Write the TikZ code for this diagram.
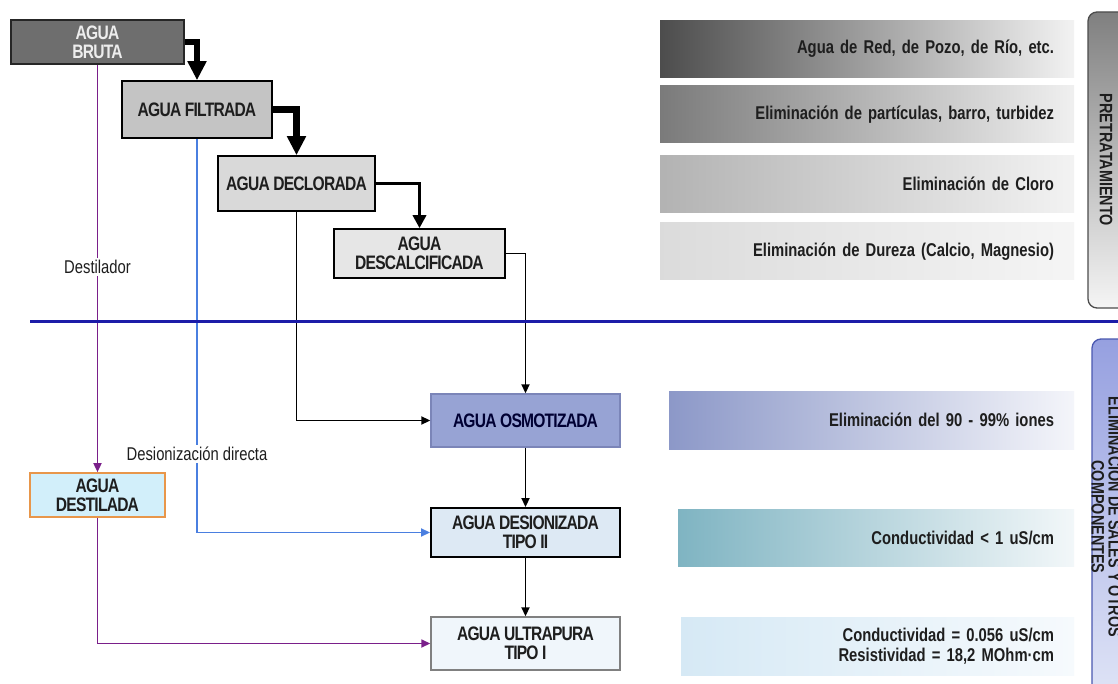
\documentclass[tikz,border=0pt]{standalone}
\usepackage{fontspec}
\setmainfont{Liberation Sans}[FakeStretch=0.8]
\newfontfamily\boxfont{Liberation Sans}[FakeStretch=0.8, LetterSpace=-4]
\usetikzlibrary{arrows.meta}
\definecolor{cbruta}{HTML}{6E6E6E}
\definecolor{cfilt}{HTML}{C4C4C4}
\definecolor{cdecl}{HTML}{D9D9D9}
\definecolor{cdesc}{HTML}{E6E6E6}
\definecolor{cosmo}{HTML}{97A3D4}
\definecolor{cosmob}{HTML}{7B85B8}
\definecolor{cdest}{HTML}{D2EFFA}
\definecolor{cdestb}{HTML}{E8964A}
\definecolor{cdesi}{HTML}{DDE9F4}
\definecolor{cultra}{HTML}{F0F6FB}
\definecolor{cpurple}{HTML}{7A1F8A}
\definecolor{cblue}{HTML}{4A7FE0}
\definecolor{cnavy}{HTML}{1C1CA8}
\definecolor{ctext}{HTML}{1E1E1E}
\tikzset{
  box/.style={draw=black, line width=1.6pt, inner sep=0pt, align=center,
    font=\boxfont\fontsize{19.5}{19}\selectfont\bfseries, text=ctext},
  band/.style={inner sep=0pt, inner xsep=20pt, align=right, text=ctext,
    font=\fontsize{18.5}{20}\selectfont\bfseries, minimum height=57},
  thickarrow/.style={line width=6.5pt, -{Triangle[length=19pt,width=18pt]}},
  medarrow/.style={line width=3.8pt, -{Triangle[length=13pt,width=13pt]}},
  thinarrow/.style={line width=1.9pt, -{Triangle[length=9pt,width=8pt]}},
  lbl/.style={fill=white, inner sep=2pt, text=ctext, font=\fontsize{18.5}{19}\selectfont},
  sidetext/.style={rotate=-90, align=center, text=ctext, font=\fontsize{18}{17}\selectfont\bfseries}
}
\begin{document}
\begin{tikzpicture}[x=1pt,y=-1pt]
\useasboundingbox (0,0) rectangle (1118,684);
\clip (0,0) rectangle (1118,684);
\fill[white] (0,0) rectangle (1118,684);

% boxes
\node[box, fill=cbruta, draw=black!85, text=white!93!black, minimum width=173, minimum height=44] (bruta) at (97.5,42) {AGUA\\BRUTA};
\node[box, fill=cfilt, minimum width=150, minimum height=57] (filt) at (197,109.5) {AGUA FILTRADA};
\node[box, fill=cdecl, minimum width=157, minimum height=55] (decl) at (296.5,183.5) {AGUA DECLORADA};
\node[box, fill=cdesc, minimum width=171, minimum height=49] (desc) at (419.5,253.5) {AGUA\\DESCALCIFICADA};
\node[box, fill=cosmo, draw=cosmob, line width=1.4pt, text=black!80!blue, minimum width=189, minimum height=53] (osmo) at (525.5,420.5) {AGUA OSMOTIZADA};
\node[box, fill=cdest, draw=cdestb, line width=1.7pt, minimum width=135, minimum height=44] (dest) at (97.5,495) {AGUA\\DESTILADA};
\node[box, fill=cdesi, line width=1.9pt, minimum width=189, minimum height=49] (desi) at (525.5,532.5) {AGUA DESIONIZADA\\TIPO II};
\node[box, fill=cultra, draw=black!50, line width=1.4pt, minimum width=189, minimum height=53] (ultra) at (525.5,643.5) {AGUA ULTRAPURA\\TIPO I};

% divider
\coordinate (hl) at (30,321);
\coordinate (hr) at (1118,321);

% connectors
\draw[cpurple, thinarrow, line width=1.7pt] (bruta.south) -- node[lbl, pos=0.496] (ldest) {Destilador} (dest.north);
\draw[cblue, thinarrow, line width=1.7pt] (filt.south) |- node[lbl, pos=0.4] (ldesi) {Desionización directa} (desi.west);
\draw[cpurple, thinarrow, line width=1.7pt] (dest.south) |- (ultra.west);
\draw[black, thinarrow] (decl.south) |- (osmo.west);
\draw[black, thinarrow] (desc.east) -| (osmo.north);
\draw[black, thinarrow] (osmo.south) -- (desi.north);
\draw[black, thinarrow] (desi.south) -- (ultra.north);
\draw[thickarrow] (bruta.east) -| (filt.north);
\draw[thickarrow] (filt.east) -| (decl.north);
\draw[medarrow] (decl.east) -| (desc.north);

\draw[cnavy, line width=3pt] (hl) -- (hr);

% bands
\node[band, left color=black!70, right color=white!95!black, minimum width=414, text width=374] (b1) at (867,49) {Agua de Red, de Pozo, de Río, etc.};
\node[band, left color=black!52, right color=white!94!black, minimum width=414, text width=374] (b2) at (867,114.5) {Eliminación de partículas, barro, turbidez};
\node[band, left color=black!30, right color=white!95!black, minimum width=414, text width=374] (b3) at (867,184) {Eliminación de Cloro};
\node[band, left color=black!14, right color=white!96!black, minimum width=414, text width=374] (b4) at (867,251.5) {Eliminación de Dureza (Calcio, Magnesio)};
\node[band, left color={rgb,255:red,140;green,152;blue,200}, right color={rgb,255:red,244;green,245;blue,250}, minimum width=405, minimum height=58, text width=365] (b5) at (871.5,420) {Eliminación del 90 - 99\% iones};
\node[band, left color={rgb,255:red,127;green,180;blue,194}, right color={rgb,255:red,242;green,247;blue,249}, minimum width=396, text width=356] (b6) at (876,537.5) {Conductividad < 1 uS/cm};
\node[band, left color={rgb,255:red,214;green,233;blue,245}, right color={rgb,255:red,246;green,250;blue,253}, minimum width=393, minimum height=58, text width=353] (b7) at (877.5,646) {Conductividad = 0.056 uS/cm\\Resistividad = 18,2 MOhm·cm};

% side boxes
\draw[draw=black!70, line width=1.3pt, rounded corners=9pt, top color=black!50, bottom color=white!96!black] (1088,12) rectangle (1160,308);
\node[sidetext] (pre) at (1106,160) {PRETRATAMIENTO};
\draw[draw={rgb,255:red,74;green,88;blue,176}, line width=1.3pt, rounded corners=9pt, top color={rgb,255:red,150;green,160;blue,224}, bottom color={rgb,255:red,236;green,240;blue,250}] (1092,339) rectangle (1160,760);
\node[sidetext] (elim) at (1108,517) {ELIMINACIÓN DE SALES Y OTROS\\COMPONENTES};
\end{tikzpicture}
\end{document}
